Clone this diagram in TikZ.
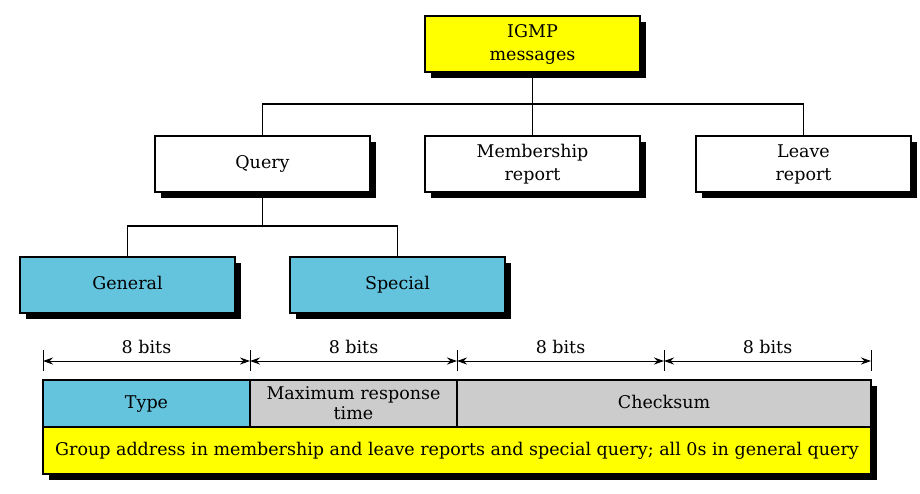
\documentclass[tikz,border=0pt]{standalone}
\usepackage{fontspec}
\setmainfont{DejaVu Serif}
\usetikzlibrary{shadows,arrows.meta}
\definecolor{cyanbox}{RGB}{100,196,222}
\definecolor{graybox}{RGB}{204,204,204}
\definecolor{yellowbox}{RGB}{255,255,0}
\newcommand{\hy}{\vphantom{Qy}}
\tikzset{
  box/.style={draw=black, line width=1.2pt, minimum width=215pt, minimum height=56pt, inner sep=0pt, align=center, font=\fontsize{17.5}{23}\selectfont, drop shadow={shadow xshift=6pt, shadow yshift=-6pt, fill=black, opacity=1}},
  conn/.style={line width=1.5pt},
  field/.style={draw=black, line width=1.2pt, inner sep=0pt, align=center, font=\fontsize{17.5}{20}\selectfont},
  dim/.style={line width=1pt, {Stealth[length=10pt,width=7pt]}-{Stealth[length=10pt,width=7pt]}},
  tick/.style={line width=1pt}
}
\begin{document}
\begin{tikzpicture}[x=1pt,y=-1pt]
\useasboundingbox (0,0) rectangle (920,493);
% tree
\node[box, fill=yellowbox] (igmp) at (532.5,44) {IGMP\\messages};
\node[box, fill=white] (query) at (262.5,164) {\hy Query};
\node[box, fill=white] (memb) at (532.5,164) {Membership\\report};
\node[box, fill=white] (leave) at (803.5,164) {Leave\\report};
\node[box, fill=cyanbox] (gen) at (127.5,285) {\hy General};
\node[box, fill=cyanbox] (spec) at (397.5,285) {\hy Special};
\coordinate (j1) at (532.5,104);
\coordinate (j2) at (262.5,226);
\draw[conn] (igmp.south) -- (j1);
\draw[conn] (j1) -| (query.north);
\draw[conn] (j1) -- (memb.north);
\draw[conn] (j1) -| (leave.north);
\draw[conn] (query.south) -- (j2);
\draw[conn] (j2) -| (gen.north);
\draw[conn] (j2) -| (spec.north);
% format
\fill[black] (49,386) rectangle (877,480);
\node[field, fill=cyanbox, minimum width=207pt, minimum height=47pt] (type) at (146.5,403.5) {\hy Type};
\node[field, fill=graybox, minimum width=207pt, minimum height=47pt] (mrt) at (353.5,403.5) {Maximum response\\time};
\node[field, fill=graybox, minimum width=414pt, minimum height=47pt] (chk) at (664,403.5) {\hy Checksum};
\node[field, fill=yellowbox, minimum width=828pt, minimum height=47pt] (grp) at (457,450.5) {\hy Group address in membership and leave reports and special query; all 0s in general query};
% dimension ticks
\coordinate (t0a) at (43,350); \coordinate (t0b) at (43,371);
\coordinate (t1a) at (250,350); \coordinate (t1b) at (250,371);
\coordinate (t2a) at (457,350); \coordinate (t2b) at (457,371);
\coordinate (t3a) at (664,350); \coordinate (t3b) at (664,371);
\coordinate (t4a) at (871,350); \coordinate (t4b) at (871,371);
\foreach \i in {0,...,4} \draw[tick] (t\i a) -- (t\i b);
\coordinate (a0) at (43,361); \coordinate (a1) at (250,361); \coordinate (a2) at (457,361); \coordinate (a3) at (664,361); \coordinate (a4) at (871,361);
\foreach \i/\j in {0/1,1/2,2/3,3/4} {
  \draw[dim] (a\i) -- (a\j) node[midway, above=3pt, font=\fontsize{17.5}{20}\selectfont] {8 bits};
}
\end{tikzpicture}
\end{document}
